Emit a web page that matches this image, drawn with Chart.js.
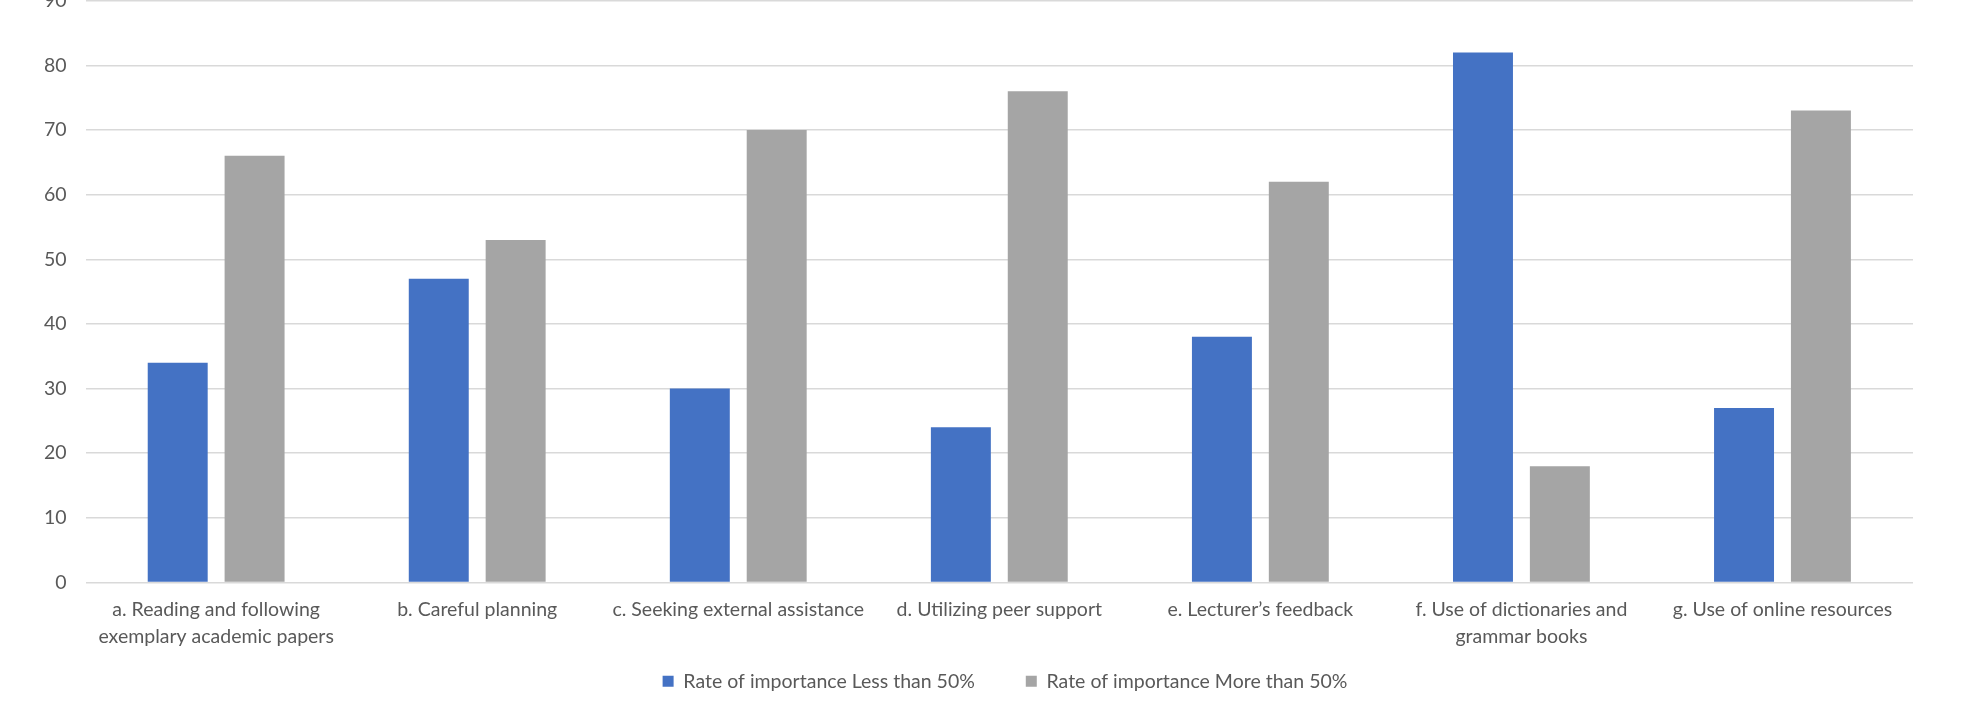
<!DOCTYPE html>
<html>
<head>
<meta charset="utf-8">
<script src="https://cdn.jsdelivr.net/npm/chart.js@4"></script>
<style>
	html, body { margin: 0; padding: 0; background: #ffffff; overflow: hidden; }
	#wrap { position: absolute; left: 0; top: -30px; width: 1962px; height: 731px; }
</style>
</head>
<body>
<div id="wrap"><canvas id="importanceChart" width="1962" height="731"></canvas></div>
<script>
const categories = [
	["a. Reading and following", "exemplary academic papers"],
	"b. Careful planning",
	"c. Seeking external assistance",
	"d. Utilizing peer support",
	"e. Lecturer\u2019s feedback",
	["f. Use of dictionaries and", "grammar books"],
	"g. Use of online resources",
];
const lessThan50 = [34, 47, 30, 24, 38, 82, 27];
const moreThan50 = [66, 53, 70, 76, 62, 18, 73];
const seriesNames = ["Rate of importance Less than 50%", "Rate of importance More than 50%"];
const yTicks = [0, 10, 20, 30, 40, 50, 60, 70, 80, 90];

const textColor = "#595959";
const gridColor = "#d9d9d9";
const fontFamily = "Lato, 'Open Sans', sans-serif";

// nudge the legend to the right, the way the original sits
const legendShift = {
	id: "legendShift",
	afterLayout(chart) {
		chart.legend.left += 36;
		chart.legend.right += 36;
	},
};

const ctx = document.getElementById("importanceChart").getContext("2d");
new Chart(ctx, {
	type: "bar",
	data: {
		labels: categories,
		datasets: [
			{
				label: seriesNames[0],
				data: lessThan50,
				backgroundColor: "#4472c4",
			},
			{
				label: seriesNames[1],
				data: moreThan50,
				backgroundColor: "#a5a5a5",
			},
		],
	},
	options: {
		responsive: false,
		animation: false,
		devicePixelRatio: 1,
		categoryPercentage: 0.589,
		barPercentage: 0.78,
		layout: {
			padding: { top: 0, left: 25, right: 49, bottom: 0 },
		},
		scales: {
			x: {
				grid: { display: false },
				border: { display: false },
				ticks: {
					color: textColor,
					padding: 5.5,
					maxRotation: 0,
					autoSkip: false,
					font: { family: fontFamily, size: 19.5, lineHeight: 1.385 },
				},
			},
			y: {
				min: yTicks[0],
				max: yTicks[yTicks.length - 1],
				afterBuildTicks: (axis) => {
					axis.ticks = yTicks.map((v) => ({ value: v }));
				},
				grid: { color: gridColor, lineWidth: 1.5, drawTicks: false },
				border: { display: false },
				ticks: {
					color: textColor,
					padding: 19,
					font: { family: fontFamily, size: 19.5 },
				},
			},
		},
		plugins: {
			tooltip: { enabled: false },
			legend: {
				position: "bottom",
				labels: {
					color: textColor,
					boxWidth: 11,
					boxHeight: 11,
					padding: 16,
					font: { family: fontFamily, size: 19.5 },
					generateLabels(chart) {
						const items = Chart.defaults.plugins.legend.labels.generateLabels(chart);
						// wider gap between the two entries
						items[0].text += "       ";
						return items;
					},
				},
			},
		},
	},
	plugins: [legendShift],
});
</script>
</body>
</html>
